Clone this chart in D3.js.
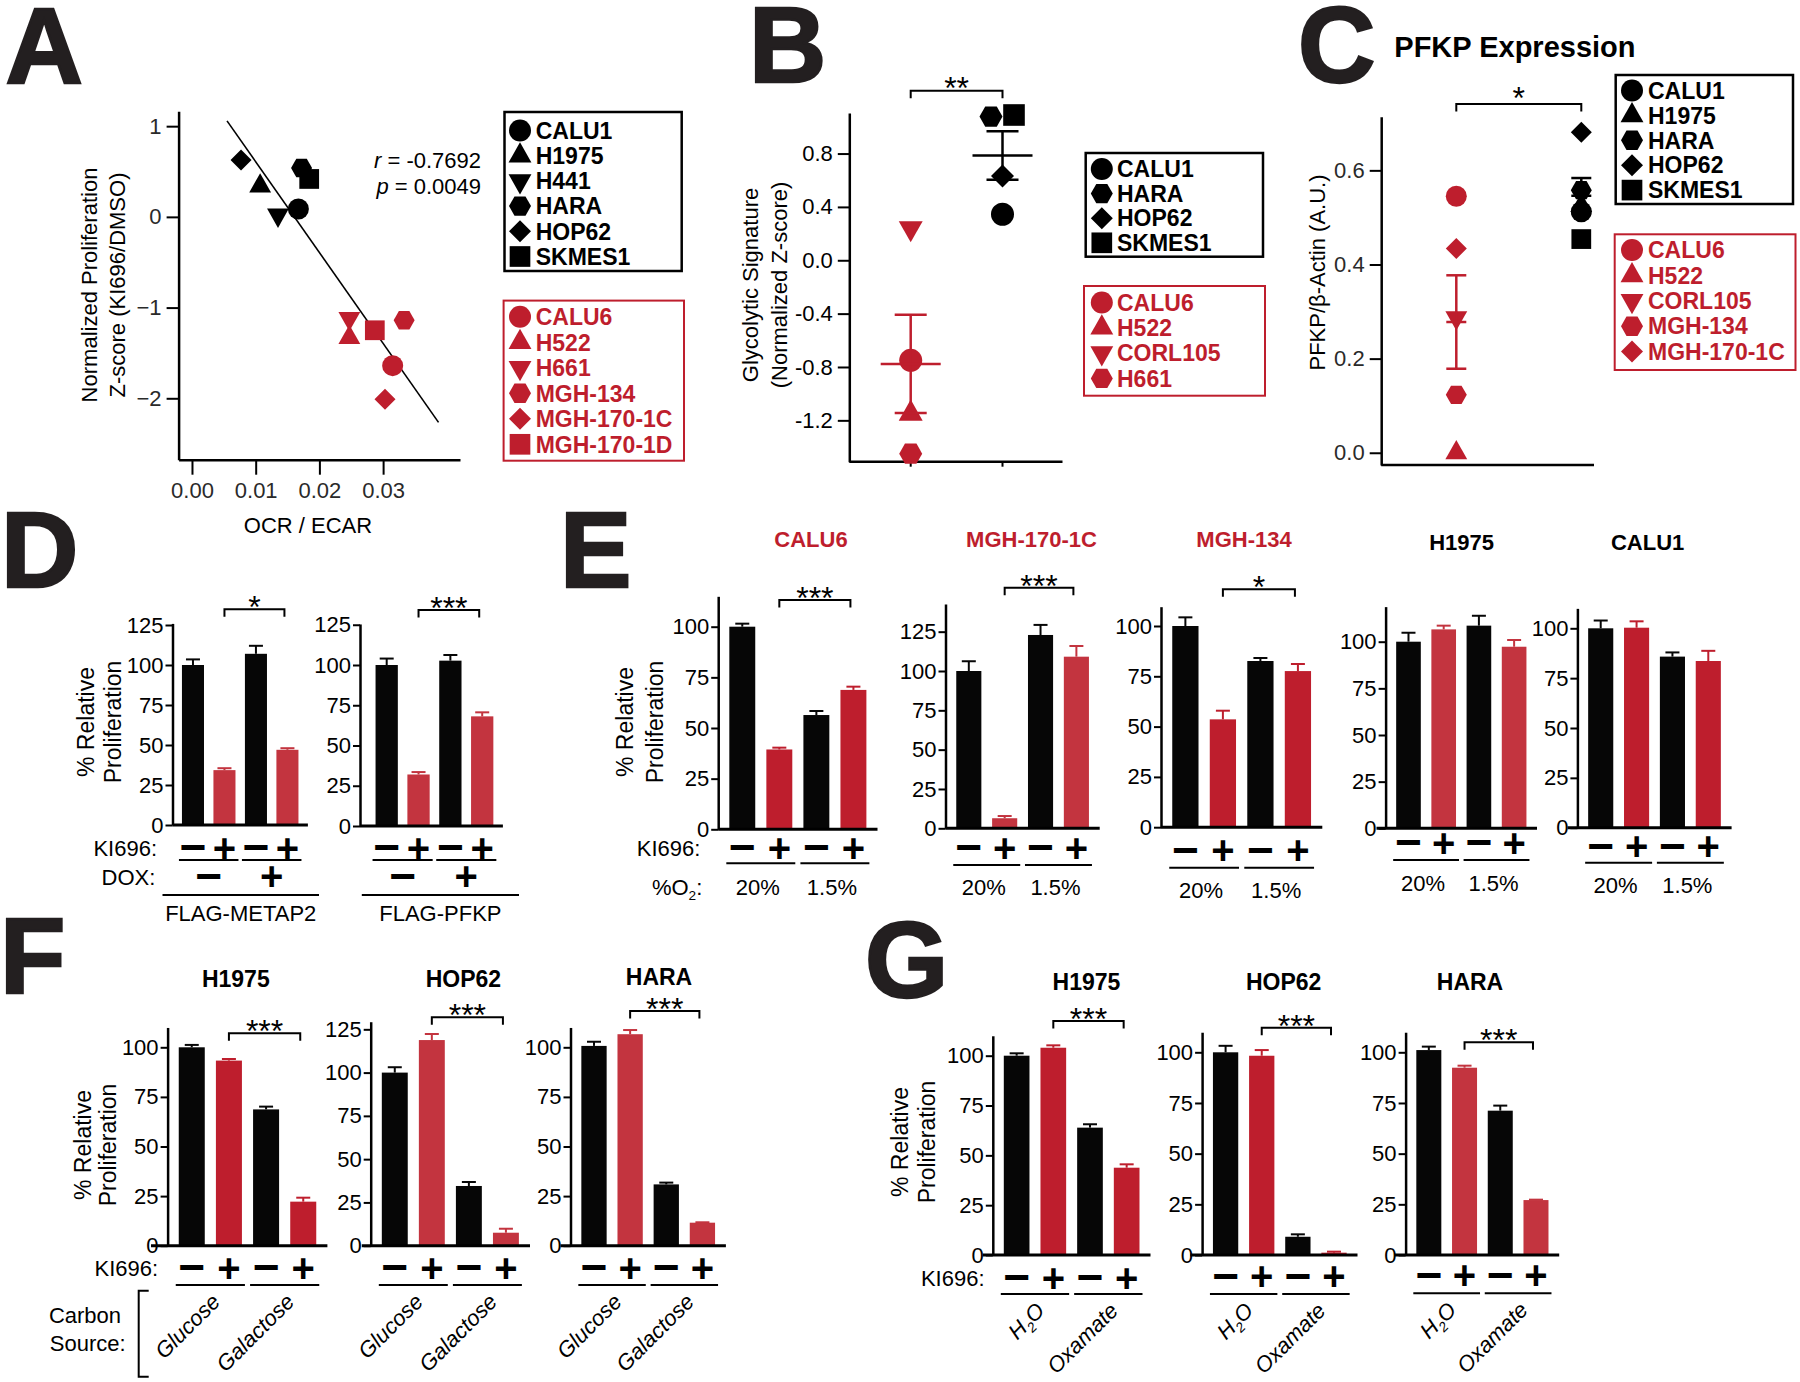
<!DOCTYPE html>
<html><head><meta charset="utf-8">
<script src="https://cdn.jsdelivr.net/npm/d3@7/dist/d3.min.js"></script>
<style>
html,body{margin:0;padding:0;background:#fff;}
svg{display:block;}
text{font-family:"Liberation Sans",Arial,Helvetica,sans-serif;}
</style></head>
<body>
<svg id="fig" width="1800" height="1382" viewBox="0 0 1800 1382"></svg>
<script>
// ======================= DATA =======================
const panelLetters = ["A","B","C","D","E","F","G"];

// ---- Panel A: OCR/ECAR vs normalized proliferation z-score ----
const aLines   = ["CALU1","H1975","H441","HARA","HOP62","SKMES1","CALU6","H522","H661","MGH-134","MGH-170-1C","MGH-170-1D"];
const aGroup   = ["res","res","res","res","res","res","sens","sens","sens","sens","sens","sens"];
const aShapes  = ["circle","triangle","invtriangle","hexagon","diamond","square","circle","triangle","invtriangle","hexagon","diamond","square"];
const aOcrEcar = [0.0167,0.0107,0.0135,0.0172,0.0077,0.0184,0.0315,0.0247,0.0247,0.0333,0.0303,0.0287];
const aZscore  = [0.087,0.34,0.02,0.539,0.626,0.418,-1.64,-1.33,-1.12,-1.14,-2.01,-1.25];
const aXTicks  = [0,0.01,0.02,0.03];
const aYTicks  = [1,0,-1,-2];
const aStats   = [["r"," = -0.7692"],["p"," = 0.0049"]];
const aFitSpan = [0.0055,0.0387];
const aXTitle  = "OCR / ECAR";
const aYTitle  = ["Normalized Proliferation","Z-score (KI696/DMSO)"];

// ---- Panel B: glycolytic signature ----
const bSensLines  = ["CALU6","H522","CORL105","H661"];
const bSensShapes = ["circle","triangle","invtriangle","hexagon"];
const bSensValues = [-0.75,-1.15,0.24,-1.45];
const bResLines   = ["CALU1","HARA","HOP62","SKMES1"];
const bResShapes  = ["circle","hexagon","diamond","square"];
const bResValues  = [0.345,1.077,0.632,1.089];
const bResJitter  = [0,-1,0,1];
const bYTicks     = [0.8,0.4,0,-0.4,-0.8,-1.2];
const bSig        = "**";
const bYTitle     = ["Glycolytic Signature","(Normalized Z-score)"];

// ---- Panel C: PFKP expression ----
const cTitle      = "PFKP Expression";
const cSensLines  = ["CALU6","H522","CORL105","MGH-134","MGH-170-1C"];
const cSensShapes = ["circle","triangle","invtriangle","hexagon","diamond"];
const cSensValues = [0.545,0.0,0.287,0.123,0.434];
const cResLines   = ["CALU1","H1975","HARA","HOP62","SKMES1"];
const cResShapes  = ["circle","triangle","hexagon","diamond","square"];
const cResValues  = [0.512,0.525,0.558,0.681,0.454];
const cYTicks     = [0,0.2,0.4,0.6];
const cSig        = "*";
const cYTitle     = ["PFKP/\u03b2-Actin (A.U.)"];

// ---- Bar panels ----
const kiSigns   = ["\u2212","+","\u2212","+"];
const relTitle  = ["% Relative","Proliferation"];
const ticks100  = [0,25,50,75,100];
const ticks125  = [0,25,50,75,100,125];

// D
const dConstructs = ["FLAG-METAP2","FLAG-PFKP"];
const doxSigns    = ["\u2212","+"];
const dValues = [[100,34.3,107,47],[100,32,102.7,68.1]];
const dErrors = [[3.5,1.2,5,1],[4,1.5,3.5,2.5]];
const dTicks  = [ticks125,ticks125];
const dSig    = ["*","***"];

// E
const eTitles    = ["CALU6","MGH-170-1C","MGH-134","H1975","CALU1"];
const eSensitive = [true,true,true,false,false];
const eO2        = ["20%","1.5%"];
const eValues = [[100,39.4,56.4,68.8],[100,6.4,122.9,109.1],[100,53.6,82.6,77.6],[100,106.6,108.6,97.3],[100,100.3,85.8,83.6]];
const eErrors = [[1.5,0.9,2,1.6],[6.2,1.4,6.4,6.8],[4.3,4.3,1.5,3.5],[4.8,2,5.3,3.6],[3.9,3.2,2.1,5.1]];
const eTicks  = [ticks100,ticks125,ticks100,ticks100,ticks100];
const eSig    = ["***","***","*",null,null];

// F
const fTitles = ["H1975","HOP62","HARA"];
const fCarbon = ["Glucose","Galactose"];
const fValues = [[100,93.3,68.7,22.2],[100,118.8,34.5,7.5],[100.7,106.6,30.9,11.6]];
const fErrors = [[1.2,0.8,1.4,2],[3.1,3.5,2.3,2.3],[2.1,2.1,0.9,0.2]];
const fTicks  = [ticks100,ticks125,ticks100];
const fSig    = ["***","***","***"];

// G
const gTitles = ["H1975","HOP62","HARA"];
const gTreat  = ["H\u2082O","Oxamate"];
const gValues = [[100,104,63.9,43.8],[100,98.3,9.0,1.15],[101.1,92.4,71.2,27.1]];
const gErrors = [[1.2,1.2,1.7,1.7],[3.2,2.8,1.2,0.5],[1.7,1,2.5,0.2]];
const gTicks  = [ticks100,ticks100,ticks100];
const gSig    = ["***","***","***"];

// ======================= STYLE / LAYOUT =======================
const INK = "#231F20", BLACK = "#060606", RED = "#BE1E2D", REDL = "#C3343F";
const svg = d3.select("#fig");
svg.append("rect").attr("width",1800).attr("height",1382).attr("fill","#fff");

const SYM = {
  circle:{draw(c,s){const r=s/2;c.moveTo(r,0);c.arc(0,0,r,0,2*Math.PI);}},
  square:{draw(c,s){const h=s*0.47;c.rect(-h,-h,2*h,2*h);}},
  triangle:{draw(c,s){const w=s*0.52,h=s*0.92;c.moveTo(0,-h*2/3);c.lineTo(w,h/3);c.lineTo(-w,h/3);c.closePath();}},
  invtriangle:{draw(c,s){const w=s*0.52,h=s*0.92;c.moveTo(0,h*2/3);c.lineTo(w,-h/3);c.lineTo(-w,-h/3);c.closePath();}},
  diamond:{draw(c,s){const h=s*0.5;c.moveTo(0,-h);c.lineTo(h,0);c.lineTo(0,h);c.lineTo(-h,0);c.closePath();}},
  hexagon:{draw(c,s){const w=s*0.5,q=s*0.25,v=s*0.44;c.moveTo(-w,0);c.lineTo(-q,-v);c.lineTo(q,-v);c.lineTo(w,0);c.lineTo(q,v);c.lineTo(-q,v);c.closePath();}}
};
const symPath = (shape,size)=>d3.symbol().type(SYM[shape]).size(size)();

function label(g,x,cy,s,o={}){
  const fs=o.size||22;
  const t=g.append("text").attr("x",x).attr("y",cy+(o.dy!=null?o.dy:0.36)*fs)
    .attr("font-size",fs).attr("font-weight",o.weight||"normal")
    .attr("font-style",o.italic?"italic":"normal")
    .attr("fill",o.fill||"#000").attr("text-anchor",o.anchor||"start");
  richText(t,s,fs);
  return t;
}
function richText(t,s,fs){
  const parts=s.split("\u2082");
  parts.forEach((p,i)=>{
    if(i>0){
      t.append("tspan").attr("font-size",fs*0.62).attr("dy",fs*0.25).text("2");
      t.append("tspan").attr("font-size",fs).attr("dy",-fs*0.25).text(p);
    } else t.append("tspan").text(p);
  });
}
function yTitle(g,lines,xs,cy,fs=22){
  lines.forEach((s,i)=>g.append("text")
    .attr("transform",`translate(${xs[i]+0.36*fs},${cy}) rotate(-90)`)
    .attr("text-anchor","middle").attr("font-size",fs).attr("fill","#000").text(s));
}
function styleAxis(sel,fs,color){
  sel.attr("font-family",null).attr("font-size",fs);
  sel.select(".domain").attr("stroke","#000").attr("stroke-width",2.5);
  sel.selectAll(".tick line").attr("stroke","#000").attr("stroke-width",2);
  sel.selectAll(".tick text").attr("fill",color).attr("font-size",fs);
}
function bracket(g,x1,x2,y,leg,sig,ctrOff,fs=32){
  g.append("path").attr("d",`M${x1},${y+leg}V${y}H${x2}V${y+leg}`)
    .attr("fill","none").attr("stroke","#000").attr("stroke-width",2);
  g.append("text").attr("x",(x1+x2)/2).attr("y",y-ctrOff+0.58*fs)
    .attr("text-anchor","middle").attr("font-size",fs).attr("fill","#000").text(sig);
}
function legend(g,L,lines,shapes,color){
  g.append("rect").attr("x",L.x0).attr("y",L.y0).attr("width",L.x1-L.x0).attr("height",L.y1-L.y0)
    .attr("fill","#fff").attr("stroke",color).attr("stroke-width",color===RED?2:2.5);
  lines.forEach((s,i)=>{
    const cy=L.rowY+i*L.step;
    g.append("path").attr("d",symPath(shapes[i],22)).attr("transform",`translate(${L.mx},${cy})`).attr("fill",color);
    label(g,L.tx,cy,s,{size:23,weight:"bold",fill:color});
  });
}
function sign(g,x,cy,s){
  const fs = s==="+"?40:46;
  g.append("text").attr("x",x).attr("y",cy+0.33*fs).attr("text-anchor","middle")
    .attr("font-size",fs).attr("font-weight","bold").attr("fill","#000").text(s);
}

// ---------- Panel letters ----------
const letterPos = [[5.5,83],[749,82],[1298,82],[1,587],[560,587],[0,993],[865,997]];
panelLetters.forEach((s,i)=>{
  svg.append("text").attr("x",letterPos[i][0]).attr("y",letterPos[i][1])
    .attr("font-size",107).attr("font-weight","bold").attr("fill",INK)
    .attr("stroke",INK).attr("stroke-width",2.5).text(s);
});

// ======================= PANEL A =======================
(function(){
  const g=svg.append("g");
  const L={x0:178.6,x1:460,yTop:111.2,yBot:459.7};
  const x=d3.scaleLinear().domain([-0.0021,0.04207]).range([L.x0,L.x1]);
  const y=d3.scaleLinear().domain([-2.677,1.165]).range([L.yBot,L.yTop]);
  const xa=g.append("g").attr("transform",`translate(0,${L.yBot})`)
    .call(d3.axisBottom(x).tickValues(aXTicks).tickFormat(d3.format(".2f")).tickSize(15).tickPadding(8).tickSizeOuter(0));
  styleAxis(xa,22,"#2a2a2a");
  const ya=g.append("g").attr("transform",`translate(${L.x0},0)`)
    .call(d3.axisLeft(y).tickValues(aYTicks).tickFormat(d3.format("d")).tickSize(12).tickPadding(5).tickSizeOuter(0));
  styleAxis(ya,22,"#2a2a2a");
  // least-squares fit
  const mx=d3.mean(aOcrEcar), my=d3.mean(aZscore);
  const slope=d3.sum(aOcrEcar,(v,i)=>(v-mx)*(aZscore[i]-my))/d3.sum(aOcrEcar,v=>(v-mx)*(v-mx));
  const icpt=my-slope*mx;
  g.append("path").attr("d",d3.line()(aFitSpan.map(v=>[x(v),y(icpt+slope*v)])))
    .attr("stroke","#000").attr("stroke-width",1.6).attr("fill","none");
  aLines.forEach((s,i)=>{
    g.append("path").attr("d",symPath(aShapes[i],21))
      .attr("transform",`translate(${x(aOcrEcar[i])},${y(aZscore[i])})`)
      .attr("fill",aGroup[i]==="sens"?RED:"#000");
  });
  // stats
  aStats.forEach((st,i)=>{
    const t=g.append("text").attr("x",481).attr("y",[168,194][i]).attr("text-anchor","end").attr("font-size",22).attr("fill","#000");
    t.append("tspan").attr("font-style","italic").text(st[0]);
    t.append("tspan").text(st[1]);
  });
  label(g,308,525,aXTitle,{anchor:"middle"});
  yTitle(g,aYTitle,[89,117],285,22);
  legend(g,{x0:504.5,y0:112,x1:681.7,y1:271,rowY:130.5,step:25.2,mx:520,tx:535.7},
    aLines.filter((s,i)=>aGroup[i]==="res"),aShapes.filter((s,i)=>aGroup[i]==="res"),"#000");
  legend(g,{x0:503.6,y0:300.6,x1:684,y1:460.7,rowY:316.8,step:25.5,mx:520,tx:535.7},
    aLines.filter((s,i)=>aGroup[i]==="sens"),aShapes.filter((s,i)=>aGroup[i]==="sens"),RED);
})();

// ======================= DOT PANELS (B, C) =======================
function dotPanel(P){
  const g=svg.append("g");
  const y=d3.scaleLinear().domain(P.dom).range([P.yBot,P.yTop]);
  const x=d3.scalePoint().domain(["sens","res"]).range(P.gx);
  const ya=g.append("g").attr("transform",`translate(${P.ax},0)`)
    .call(d3.axisLeft(y).tickValues(P.ticks).tickFormat(d=>d.toFixed(1)).tickSize(11.5).tickPadding(5).tickSizeOuter(0));
  styleAxis(ya,22,P.tickColor);
  g.append("line").attr("x1",P.ax).attr("x2",P.xEnd).attr("y1",P.yBot).attr("y2",P.yBot).attr("stroke","#000").attr("stroke-width",2.5);
  if(P.xticks) ["sens","res"].forEach(k=>g.append("line").attr("x1",x(k)).attr("x2",x(k)).attr("y1",P.yBot).attr("y2",P.yBot+5).attr("stroke","#000").attr("stroke-width",2));
  const groups=[{k:"sens",vals:P.sensV,shapes:P.sensS,jit:P.sensV.map(()=>0),col:RED},
                {k:"res",vals:P.resV,shapes:P.resS,jit:P.resJ||P.resV.map(()=>0),col:"#000"}];
  groups.forEach(G=>{
    const m=d3.mean(G.vals), se=d3.deviation(G.vals)/Math.sqrt(G.vals.length), cx=x(G.k);
    G.vals.forEach((v,i)=>g.append("path").attr("d",symPath(G.shapes[i],P.msize))
      .attr("transform",`translate(${cx+G.jit[i]*P.jpx},${y(v)})`).attr("fill",G.col));
    const e=g.append("g").attr("stroke",G.col).attr("stroke-width",2.5).attr("fill","none");
    e.append("line").attr("x1",cx).attr("x2",cx).attr("y1",y(m-se)).attr("y2",y(m+se));
    e.append("line").attr("x1",cx-P.meanHW).attr("x2",cx+P.meanHW).attr("y1",y(m)).attr("y2",y(m));
    [m-se,m+se].forEach(v=>e.append("line").attr("x1",cx-P.capHW).attr("x2",cx+P.capHW).attr("y1",y(v)).attr("y2",y(v)));
  });
  bracket(g,x("sens"),x("res"),P.sigY,7.5,P.sig,P.sigOff,32);
  yTitle(g,P.title,P.titleX,P.titleCy,22);
  legend(g,P.legRes,P.resL,P.resS,"#000");
  legend(g,P.legSens,P.sensL,P.sensS,RED);
  return g;
}
dotPanel({dom:[-1.51,1.104],yBot:461.7,yTop:113,ax:849.3,xEnd:1062.5,gx:[910.7,1002.5],ticks:bYTicks,tickColor:"#000",xticks:true,
  sensV:bSensValues,sensS:bSensShapes,sensL:bSensLines,resV:bResValues,resS:bResShapes,resL:bResLines,resJ:bResJitter,jpx:11.5,
  msize:23,meanHW:30,capHW:16,sig:bSig,sigY:90.7,sigOff:10.7,title:bYTitle,titleX:[750,778.6],titleCy:285,
  legRes:{x0:1085.7,y0:153,x1:1263,y1:256.7,rowY:169,step:24.6,mx:1101.8,tx:1117},
  legSens:{x0:1084,y0:286,x1:1265,y1:395.7,rowY:302.5,step:25.3,mx:1101.8,tx:1117}});
const gC=dotPanel({dom:[-0.026,0.714],yBot:465,yTop:116.7,ax:1381.2,xEnd:1594,gx:[1456.3,1581.3],ticks:cYTicks,tickColor:"#2a2a2a",xticks:false,
  sensV:cSensValues,sensS:cSensShapes,sensL:cSensLines,resV:cResValues,resS:cResShapes,resL:cResLines,jpx:0,
  msize:21,meanHW:10,capHW:10,sig:cSig,sigY:104,sigOff:14,title:cYTitle,titleX:[1316.8],titleCy:272.5,
  legRes:{x0:1615.7,y0:75,x1:1793,y1:204,rowY:90.5,step:24.9,mx:1632,tx:1648},
  legSens:{x0:1614.7,y0:234.3,x1:1795.5,y1:370,rowY:250,step:25.4,mx:1632,tx:1648}});
label(gC,1394.3,46.7,cTitle,{size:29,weight:"bold"});

// ======================= BAR PANELS =======================
function drawBars(L,vals,errs,ticks){
  const g=svg.append("g");
  const y=d3.scaleLinear().domain([0,L.yMax]).range([L.y0,L.y0-L.yMax*L.ppu]);
  const x=d3.scaleBand().domain(d3.range(vals.length)).range([L.bx0,L.bx1]).paddingInner(0.3).paddingOuter(0.3);
  const bw=x.bandwidth(), cx=i=>x(i)+bw/2;
  const col=i=>i%2?L.red:BLACK;
  g.selectAll("rect.bar").data(vals).join("rect").attr("class","bar")
    .attr("x",(d,i)=>x(i)).attr("width",bw).attr("y",d=>y(d)).attr("height",d=>L.y0-y(d)).attr("fill",(d,i)=>col(i));
  const eb=g.selectAll("g.err").data(vals).join("g").attr("class","err")
    .attr("stroke",(d,i)=>col(i)).attr("stroke-width",2).attr("fill","none");
  eb.append("line").attr("x1",(d,i)=>cx(i)).attr("x2",(d,i)=>cx(i)).attr("y1",d=>y(d)).attr("y2",(d,i)=>y(d+errs[i]));
  eb.append("line").attr("x1",(d,i)=>cx(i)-7).attr("x2",(d,i)=>cx(i)+7).attr("y1",(d,i)=>y(d+errs[i])).attr("y2",(d,i)=>y(d+errs[i]));
  const ya=g.append("g").attr("transform",`translate(${L.ax},0)`)
    .call(d3.axisLeft(y).tickValues(ticks).tickFormat(d3.format("d")).tickSize(7).tickPadding(2).tickSizeOuter(0));
  styleAxis(ya,22,"#000");
  g.append("line").attr("x1",L.xl).attr("x2",L.bx1).attr("y1",L.y0).attr("y2",L.y0).attr("stroke","#000").attr("stroke-width",3);
  kiSigns.forEach((s,i)=>sign(g,cx(i),L.signY,s));
  [[0,1],[2,3]].forEach(([a,b])=>g.append("line").attr("x1",x(a)-3).attr("x2",x(b)+bw+3)
    .attr("y1",L.ulY).attr("y2",L.ulY).attr("stroke","#000").attr("stroke-width",2));
  if(L.sig) bracket(g,cx(1),cx(3)-3,L.sigY,7.5,L.sig,9.5,32);
  if(L.title) label(g,L.titleX,L.titleY,L.title,{size:L.titleSize||22,weight:"bold",anchor:"middle",fill:L.titleColor||"#000"});
  const gc=[(x(0)+x(1)+bw)/2,(x(2)+x(3)+bw)/2];
  return {g,x,y,bw,cx,gc};
}

// ---- D ----
const dLayout=[
  {ax:172.5,bx0:172.5,bx1:307.9,xl:172.5,y0:825,ppu:1.6,yMax:126,sigY:609.3,signY:848.3,ulY:860,red:REDL,line:[162.5,319]},
  {ax:360,bx0:366,bx1:502.9,xl:360,y0:826,ppu:1.61,yMax:125.5,sigY:610,signY:848.3,ulY:860,red:REDL,line:[361.8,519]}];
dValues.forEach((v,k)=>{
  const L=Object.assign({sig:dSig[k]},dLayout[k]);
  const r=drawBars(L,v,dErrors[k],dTicks[k]);
  doxSigns.forEach((s,j)=>sign(r.g,r.gc[j],876.7,s));
  r.g.append("line").attr("x1",L.line[0]).attr("x2",L.line[1]).attr("y1",895).attr("y2",895).attr("stroke","#000").attr("stroke-width",2);
  label(r.g,(L.line[0]+L.line[1])/2,913.3,dConstructs[k],{anchor:"middle"});
});
const gD=svg.append("g");
yTitle(gD,relTitle,[85.7,112.5],722,23);
label(gD,157,848.3,"KI696:",{anchor:"end"});
label(gD,155.4,876.7,"DOX:",{anchor:"end"});

// ---- E ----
const eLayout=[
  {ax:718.2,bx0:718.2,bx1:877.5,xl:718.2,y0:829.3,ppu:2.026,yMax:115,sigY:600,signY:848.3,ulY:863.3,labY:886.7,titleX:811,titleY:539.3,red:RED},
  {ax:945.5,bx0:945.5,bx1:1099.7,xl:945.5,y0:828.3,ppu:1.573,yMax:142.6,sigY:587.7,signY:848.3,ulY:865,labY:887.3,titleX:1031.5,titleY:539.3,red:REDL},
  {ax:1161,bx0:1161,bx1:1322.3,xl:1161,y0:827.2,ppu:2.012,yMax:109.6,sigY:589.3,signY:850.7,ulY:867.7,labY:890,titleX:1244,titleY:539.3,red:RED},
  {ax:1385.6,bx0:1385.6,bx1:1537,xl:1376.5,y0:828.3,ppu:1.866,yMax:118.8,signY:843.3,ulY:860,labY:883.3,titleX:1461.6,titleY:541.7,red:REDL},
  {ax:1577.4,bx0:1577.4,bx1:1731.6,xl:1567.5,y0:827.7,ppu:1.994,yMax:110,signY:846.7,ulY:862.7,labY:885,titleX:1647.6,titleY:541.7,red:RED}];
eValues.forEach((v,k)=>{
  const L=Object.assign({sig:eSig[k],title:eTitles[k],titleColor:eSensitive[k]?RED:"#000"},eLayout[k]);
  const r=drawBars(L,v,eErrors[k],eTicks[k]);
  eO2.forEach((s,j)=>label(r.g,r.gc[j]-3,L.labY,s,{anchor:"middle"}));
});
const gE=svg.append("g");
yTitle(gE,relTitle,[625.2,654.9],722,23);
label(gE,700.4,848.3,"KI696:",{anchor:"end"});
label(gE,702.3,886.7,"%O\u2082:",{anchor:"end"});

// ---- F & G ----
function rotLabels(r,L,labels){
  labels.forEach((s,j)=>{
    const t=r.g.append("text").attr("transform",`translate(${r.gc[j]+11},${L.ulY+18}) rotate(-45)`)
      .attr("text-anchor","end").attr("font-size",22).attr("font-style","italic").attr("fill","#000");
    richText(t,s,22);
  });
}
const fLayout=[
  {ax:167.6,bx0:167.6,bx1:327.4,xl:151,y0:1245.7,ppu:1.984,yMax:110,sigY:1033.3,signY:1268.3,ulY:1285,titleX:235.8,titleY:978.3,red:RED},
  {ax:370.7,bx0:370.7,bx1:530,xl:361.8,y0:1245.7,ppu:1.731,yMax:129.4,sigY:1017.3,signY:1268.3,ulY:1285,titleX:463.4,titleY:978.3,red:REDL},
  {ax:570.5,bx0:570.5,bx1:725.9,xl:560.5,y0:1245.7,ppu:1.984,yMax:110,sigY:1011,signY:1268.3,ulY:1285,titleX:659,titleY:976.7,red:REDL}];
fValues.forEach((v,k)=>{
  const L=Object.assign({sig:fSig[k],title:fTitles[k],titleSize:23},fLayout[k]);
  const r=drawBars(L,v,fErrors[k],fTicks[k]);
  rotLabels(r,L,fCarbon);
});
const gF=svg.append("g");
yTitle(gF,relTitle,[83.2,108.2],1145,23);
label(gF,158.2,1268.3,"KI696:",{anchor:"end"});
label(gF,85,1315,"Carbon",{anchor:"middle"});
label(gF,87.7,1343.3,"Source:",{anchor:"middle"});
gF.append("path").attr("d","M148.7,1290.7H138.7V1376.7H148.7").attr("fill","none").attr("stroke","#000").attr("stroke-width",2);

const gLayout=[
  {ax:992.8,bx0:992.8,bx1:1150.5,xl:982.7,y0:1255,ppu:1.993,yMax:110,sigY:1021,signY:1278.3,ulY:1294,titleX:1086.5,titleY:981.7,red:RED},
  {ax:1202.1,bx0:1202.1,bx1:1357.5,xl:1190.3,y0:1255,ppu:2.027,yMax:109.9,sigY:1027.7,signY:1276.7,ulY:1294,titleX:1283.7,titleY:981.7,red:RED},
  {ax:1405.6,bx0:1405.6,bx1:1559.2,xl:1394.9,y0:1255,ppu:2.027,yMax:109.9,sigY:1042.3,signY:1276,ulY:1293.3,titleX:1470,titleY:981.7,red:REDL}];
gValues.forEach((v,k)=>{
  const L=Object.assign({sig:gSig[k],title:gTitles[k],titleSize:23},gLayout[k]);
  const r=drawBars(L,v,gErrors[k],gTicks[k]);
  rotLabels(r,L,gTreat);
});
const gG=svg.append("g");
yTitle(gG,relTitle,[899.7,926.3],1142,23);
label(gG,984.5,1278.3,"KI696:",{anchor:"end"});
</script>
</body></html>
